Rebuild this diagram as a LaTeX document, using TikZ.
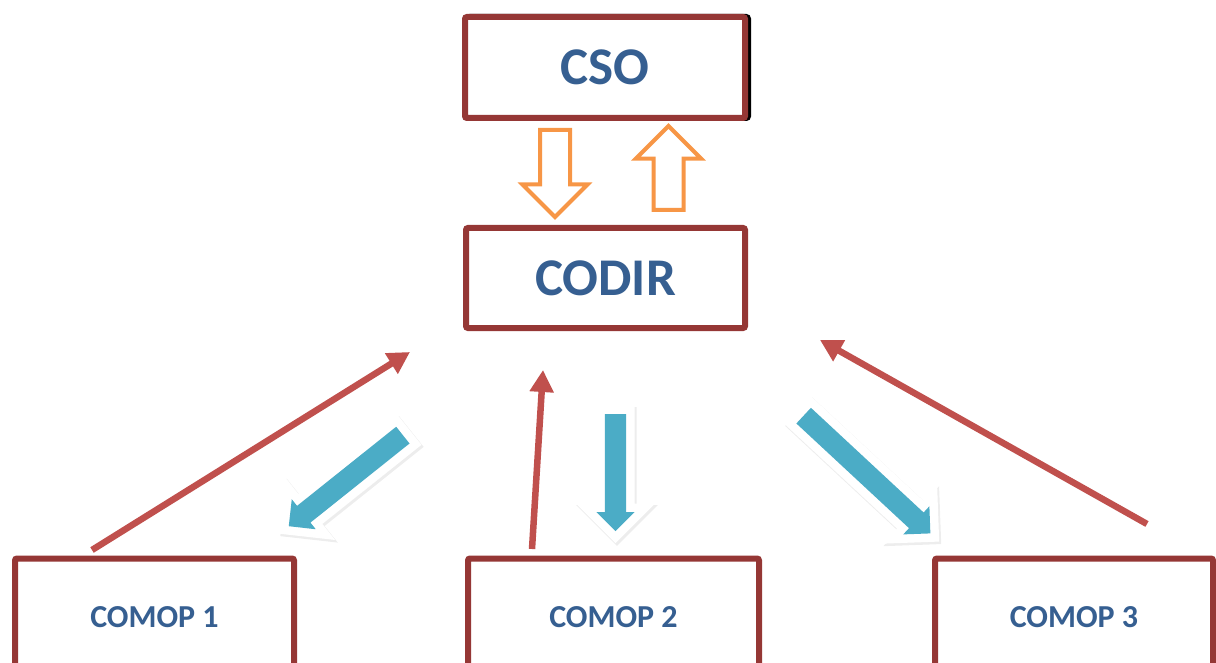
\documentclass[tikz,border=0pt]{standalone}
\usepackage{fontspec}
\setmainfont{Carlito}
\usetikzlibrary{positioning,arrows.meta,shapes.arrows,shadows}
\definecolor{frame}{HTML}{953735}
\definecolor{ink}{HTML}{365F91}
\definecolor{accent}{HTML}{C0504D}
\definecolor{amber}{HTML}{F79646}
\definecolor{sky}{HTML}{4BACC6}
\tikzset{
  box/.style={draw=frame,fill=white,line width=6pt,rounded corners=2pt,text=ink,align=center},
  bigbox/.style={box,minimum width=280pt,minimum height=101pt,font=\fontsize{53}{60}\selectfont\bfseries},
  smallbox/.style={box,minimum height=117pt,font=\fontsize{32}{38}\selectfont\bfseries},
  hollow/.style={single arrow,draw=amber,line width=4pt,fill=white,inner xsep=0pt,inner ysep=13pt,
    single arrow head extend=17.5pt,minimum height=#1,anchor=tail},
  blockarrow/.style={single arrow,fill=sky,inner xsep=0pt,inner ysep=10.5pt,
    single arrow head extend=8.5pt,minimum height=#1,anchor=tail,line join=miter,
    drop shadow={shadow xshift=1.5pt,shadow yshift=-2pt,fill=black,draw=black,line width=18pt,opacity=.07},
    preaction={draw=white,line width=17pt}},
  link/.style={draw=accent,line width=6.5pt,-{Triangle[length=22pt,width=23pt]}}}

\begin{document}
\begin{tikzpicture}[x=1pt,y=-1pt]
  \path[use as bounding box,clip] (0,0) rectangle (1216,663);
  % boxes
  \node[bigbox,preaction={draw=black,transform canvas={xshift=3pt}}] (cso) at (605,67.5) {CSO};
  \node[bigbox,minimum width=279pt,minimum height=100pt] (codir) at (605.5,278) {CODIR};
  \node[smallbox,minimum width=279pt] (comop1) at (154.5,617) {COMOP 1};
  \node[smallbox,minimum width=291pt] (comop2) at (613.5,617) {COMOP 2};
  \node[smallbox,minimum width=278pt] (comop3) at (1074,617) {COMOP 3};
  % CSO <-> CODIR
  \node[hollow=87pt,rotate=-90] (down) at (555,128) {};
  \node[hollow=84pt,rotate=90] (up) at (668.5,212) {};
  % CODIR -> COMOPs
  \node[blockarrow=146pt,rotate=218.6] (to1) at (403,435) {};
  \node[blockarrow=117pt,rotate=-90] (to2) at (615.5,414) {};
  \node[blockarrow=173pt,rotate=-42.9] (to3) at (803.5,415.5) {};
  % COMOPs -> CODIR
  \coordinate (from1) at (92,550);
  \coordinate (from2) at (532,549);
  \coordinate (from3) at (1147,524);
  \coordinate (back1) at (410,352);
  \coordinate (back2) at (543,370);
  \coordinate (back3) at (820,340);
  \draw[link] (from1) -- (back1);
  \draw[link] (from2) -- (back2);
  \draw[link] (from3) -- (back3);
\end{tikzpicture}
\end{document}
